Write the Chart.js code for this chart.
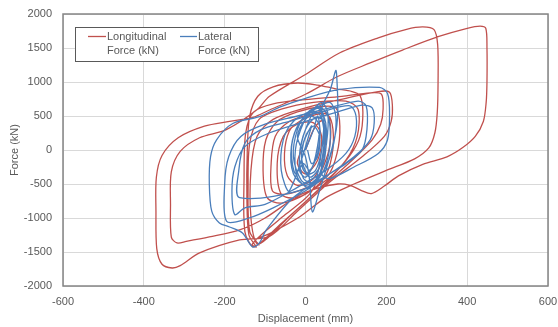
<!DOCTYPE html>
<html lang="en">
<head>
    <meta charset="UTF-8">
    <title>Force - Displacement</title>
    <script src="https://cdn.jsdelivr.net/npm/chart.js@4.4.1/dist/chart.umd.min.js"></script>
    <style>
        body { margin: 0; background: #fff; }
    </style>
</head>
<body>
    <canvas id="myChart" width="558" height="327"></canvas>
    <script>
        // displacement (mm), force (kN)
        var xTicks = [-600, -400, -200, 0, 200, 400, 600];
        var yTicks = [-2000, -1500, -1000, -500, 0, 500, 1000, 1500, 2000];
        var seriesNames = [['Longitudinal', 'Force (kN)'], ['Lateral', 'Force (kN)']];

        var longitudinal = [
            [0,0],[20,300],[40,430],[50,300],[45,-50],[20,-420],[-20,-520],[-45,-380],[-52,-50],[-40,280],
            [-15,420],[25,520],[55,520],[68,300],[65,-100],[45,-420],[0,-650],[-60,-780],[-95,-700],[-105,-300],
            [-98,150],[-70,420],[-20,560],[40,640],[75,620],[85,350],[78,-50],[55,-380],
            [0,-560],[-50,-650],[-82,-600],[-85,-200],[-75,200],[-40,420],[10,520],[50,560],[62,350],[58,0],
            [40,-300],[10,-650],
            [-50,-950],[-110,-1250],[-132,-1390],[-122,-1425],[-140,-1250],[-145,-700],[-144,0],
            [-138,500],[-118,790],[-80,930],[-20,985],[30,955],[75,900],[115,860],[135,800],[142,550],[135,200],
            [110,-80],[60,-420],[0,-760],[-60,-1080],[-105,-1330],
            [-130,-1420],[-150,-1200],[-152,-400],[-148,250],[-128,560],[-80,680],[0,740],[90,790],[160,840],
            [188,820],[192,600],[186,380],[165,150],[110,-180],[30,-600],[-40,-980],[-95,-1300],
            [-120,-1380],[-135,-1000],[-135,-300],[-120,200],[-80,450],[0,620],[100,760],[180,860],[208,850],
            [215,650],[212,420],[195,200],[140,-100],[60,-470],[-20,-900],
            [-89,-1270],[-163,-1323],[-262,-1514],[-310,-1700],[-330,-1735],[-355,-1680],[-368,-1450],
            [-370,-900],[-369,-400],[-355,-80],[-315,180],[-250,350],[-188,420],[-130,480],[-89,588],[0,820],
            [77,1073],[160,1280],[240,1470],[330,1670],[400,1790],[432,1822],[446,1790],[449,1500],[449,1000],
            [447,700],[440,420],[420,200],[390,40],[350,-100],[290,-210],[230,-380],[195,-530],[163,-640],[140,-600],
            [110,-520],[80,-500],[30,-560],[-20,-680],[-100,-1000],[-163,-1176],[-238,-1279],[-295,-1345],
            [-318,-1367],[-332,-1280],[-334,-800],[-332,-320],[-310,-20],[-262,180],[-196,300],[-121,588],
            [-89,790],[0,1110],[84,1426],[180,1650],[250,1775],[290,1810],[318,1770],[327,1550],[328,1000],
            [326,550],[320,250],[305,30],[270,-130],[200,-300],[120,-500],[50,-700],[-15,-985],[-89,-1230],[-125,-1330],
            [-115,-1395],[-138,-1200],[-142,-500],[-138,100],[-115,450],[-60,600],[20,700],[100,720],[130,600],
            [128,200],[100,-150],[50,-450],[-20,-700],[-60,-650],[-70,-200],[-55,200],[-20,380],[20,400],
            [40,200],[30,-150],[0,-350],[-20,-200],[-10,0]
        ];

        var lateral = [
            [0,0],[20,300],[30,500],[35,300],[20,-200],[0,-400],[-15,-300],[-10,100],[10,450],[30,650],
            [45,500],[40,0],[25,-450],[5,-550],[-20,-400],[-25,0],[-5,400],[20,600],[40,700],[55,550],
            [52,100],[35,-350],[15,-500],[-10,-450],[-30,-100],[-20,300],[5,550],[30,620],[50,400],[48,-100],
            [30,-400],[0,-520],[-30,-350],[-35,50],[-15,400],[15,500],[35,350],[30,-50],[10,-300],[-5,-200],
            [-25,-350],[-35,0],[-20,350],[10,550],[40,620],[58,450],[60,50],[45,-300],[20,-480],[-5,-420],
            [-15,-100],[0,300],[25,480],[45,420],[48,100],[35,-250],[12,-400],[-8,-250],[-5,100],[15,350],
            [-40,-600],[-60,-300],[-55,150],[-30,420],[20,600],[60,700],[75,500],[70,100],[50,-250],[10,-550],
            [-163,-700],[-165,-300],[-150,100],[-110,300],[-40,420],[40,560],[110,650],[125,500],[122,200],
            [100,-50],[50,-300],[-20,-550],[-100,-800],[-150,-850],
            [-175,-950],[-182,-600],[-175,-250],[-150,50],[-90,250],[0,420],[80,560],[140,660],[165,620],
            [170,400],[160,150],[120,-100],[60,-350],[0,-600],[-80,-850],[-140,-1000],
            [-195,-1050],[-200,-500],[-190,-100],[-160,200],[-100,380],[-20,500],[60,620],[130,720],[150,650],
            [152,300],[140,0],[100,-200],[40,-420],[-30,-700],[-97,-1176],[-114,-1367],[-131,-1426],[-156,-1220],
            [-188,-1132],[-213,-1073],[-232,-900],[-238,-500],[-235,-100],[-220,150],[-180,390],[-114,490],
            [-64,630],[0,760],[84,890],[183,920],[203,830],[208,530],[203,150],[180,-50],[120,-250],[60,-420],
            [40,-350],[47,200],[40,600],[62,900],[75,1170],[78,1000],[80,600],[76,300],[60,-100],
            [35,-590],[17,-910],[10,-440],[0,-100],[-20,200],[0,450],[30,550],[45,350],[40,0],[25,-300],
            [5,-350],[-10,-100],[0,200],[20,350],[35,200],[30,-100],[15,-200],[5,0]
        ];

        function pts(list) {
            return list.map(function (p) { return { x: p[0], y: p[1] }; });
        }

        var red = 'rgb(192, 80, 77)';
        var blue = 'rgb(74, 126, 187)';

        var frameAndLegend = {
            id: 'frameAndLegend',
            afterDatasetsDraw: function (chart) {
                var c = chart.ctx, a = chart.chartArea;
                c.save();
                c.strokeStyle = '#858585';
                c.lineWidth = 1.5;
                c.strokeRect(a.left, a.top, a.right - a.left, a.bottom - a.top);

                // legend box in the upper left corner
                c.fillStyle = '#fff';
                c.fillRect(75, 27, 183, 34);
                c.strokeStyle = '#595959';
                c.lineWidth = 1;
                c.strokeRect(75.5, 27.5, 183, 34);
                c.font = '11px "Liberation Sans"';
                c.textBaseline = 'middle';
                c.fillStyle = '#595959';
                c.lineWidth = 1.3;
                c.strokeStyle = red;
                c.beginPath(); c.moveTo(88, 36.5); c.lineTo(106, 36.5); c.stroke();
                c.fillText(seriesNames[0][0], 107, 37);
                c.fillText(seriesNames[0][1], 107, 51);
                c.strokeStyle = blue;
                c.beginPath(); c.moveTo(180, 36.5); c.lineTo(197, 36.5); c.stroke();
                c.fillText(seriesNames[1][0], 198, 37);
                c.fillText(seriesNames[1][1], 198, 51);
                c.restore();
            }
        };

        var tickFont = { family: 'Liberation Sans', size: 11 };
        var plain = function (v) { return String(v); };

        var ctx = document.getElementById('myChart');
        var myChart = new Chart(ctx, {
            type: 'scatter',
            data: {
                datasets: [{
                    label: seriesNames[0].join(' '),
                    data: pts(longitudinal),
                    showLine: true,
                    borderColor: red,
                    borderWidth: 1.3,
                    pointRadius: 0,
                    tension: 0.3,
                    order: 2
                }, {
                    label: seriesNames[1].join(' '),
                    data: pts(lateral),
                    showLine: true,
                    borderColor: blue,
                    borderWidth: 1.3,
                    pointRadius: 0,
                    tension: 0.3,
                    order: 1
                }]
            },
            options: {
                responsive: false,
                animation: false,
                layout: { padding: { left: 0, top: 14, right: 10, bottom: 0 } },
                plugins: { legend: { display: false }, tooltip: { enabled: false } },
                scales: {
                    x: {
                        type: 'linear',
                        min: -600, max: 600,
                        afterBuildTicks: function (s) { s.ticks = xTicks.map(function (v) { return { value: v }; }); },
                        afterFit: function (s) { s.height = 41; s.paddingLeft = 0; s.paddingRight = 0; },
                        grid: { color: '#d9d9d9', drawTicks: false },
                        border: { display: false },
                        ticks: { padding: 9, color: '#595959', font: tickFont, callback: plain },
                        title: { display: true, text: 'Displacement (mm)', color: '#595959',
                            font: tickFont, padding: { top: 0, bottom: 1 } }
                    },
                    y: {
                        type: 'linear',
                        min: -2000, max: 2000,
                        afterBuildTicks: function (s) { s.ticks = yTicks.map(function (v) { return { value: v }; }); },
                        afterFit: function (s) { s.width = 63; s.paddingTop = 0; s.paddingBottom = 0; },
                        grid: { color: '#d9d9d9', drawTicks: false },
                        border: { display: false },
                        ticks: { padding: 11, color: '#595959', font: tickFont, callback: plain },
                        title: { display: true, text: 'Force (kN)', color: '#595959',
                            font: tickFont, padding: { top: 8, bottom: 0 } }
                    }
                }
            },
            plugins: [frameAndLegend]
        });
    </script>
</body>
</html>
